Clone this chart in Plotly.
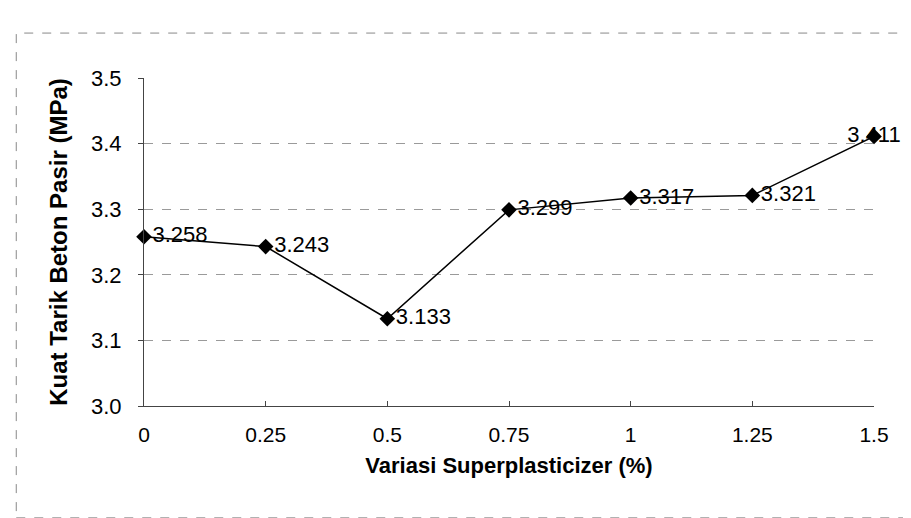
import plotly.graph_objects as go

# Data
superplasticizer = [0, 0.25, 0.5, 0.75, 1, 1.25, 1.5]
kuat_tarik = [3.258, 3.243, 3.133, 3.299, 3.317, 3.321, 3.411]
value_labels = ["3.258", "3.243", "3.133", "3.299", "3.317", "3.321", "3.411"]
x_tick_vals = [0, 0.25, 0.5, 0.75, 1, 1.25, 1.5]
x_tick_text = ["0", "0.25", "0.5", "0.75", "1", "1.25", "1.5"]
y_tick_vals = [3.0, 3.1, 3.2, 3.3, 3.4, 3.5]

FONT = "Liberation Sans, Arial, sans-serif"

positions = ["middle right"] * (len(superplasticizer) - 1) + ["middle center"]

fig = go.Figure()
fig.add_trace(go.Scatter(
    x=superplasticizer, y=kuat_tarik,
    mode="lines+markers+text",
    line=dict(color="black", width=1.5),
    marker=dict(symbol="diamond", size=12, color="black"),
    text=value_labels,
    textposition=positions,
    textfont=dict(family=FONT, size=22, color="black"),
    cliponaxis=False,
    showlegend=False,
))

fig.update_layout(
    width=911, height=518,
    margin=dict(l=136, r=45, t=70, b=120),
    paper_bgcolor="white", plot_bgcolor="white",
    font=dict(family=FONT, color="black"),
    xaxis=dict(
        range=[0, 1.5],
        tickvals=x_tick_vals, ticktext=x_tick_text,
        tickfont=dict(size=21, family=FONT),
        showgrid=False, zeroline=False,
        showline=True, linecolor="#444", linewidth=1,
        ticks="inside", ticklen=5, tickcolor="#444",
        ticklabelstandoff=10,
        title=dict(text="<b>Variasi Superplasticizer (%)</b>",
                   font=dict(size=22, family=FONT), standoff=12),
    ),
    yaxis=dict(
        range=[3.0, 3.5],
        tickvals=y_tick_vals, tickformat=".1f",
        tickfont=dict(size=22, family=FONT),
        showgrid=True, gridcolor="#9a9a9a", gridwidth=1, griddash="dash",
        zeroline=False,
        showline=True, linecolor="#444", linewidth=1,
        ticks="outside", ticklen=5, tickcolor="#444",
        ticklabelstandoff=12,
        title=dict(text="<b>Kuat Tarik Beton Pasir (MPa)</b>",
                   font=dict(size=24, family=FONT), standoff=16),
    ),
    shapes=[dict(type="rect", xref="paper", yref="paper",
                 x0=-0.175, x1=1.058, y0=-0.341, y1=1.137,
                 line=dict(color="#888", width=1, dash="dash"),
                 layer="below")],
)

fig.write_html("out.html")
